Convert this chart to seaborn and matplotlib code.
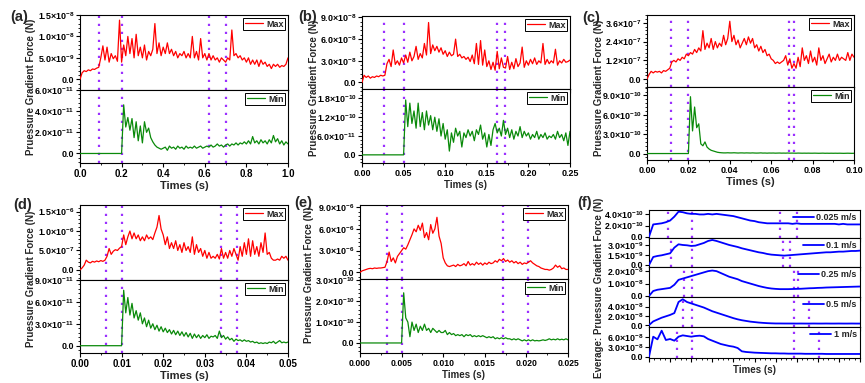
import numpy as np
import matplotlib
matplotlib.use("Agg")
import matplotlib.pyplot as plt
from matplotlib.ticker import FuncFormatter, FormatStrFormatter, AutoMinorLocator, NullFormatter
import seaborn as sns

# (a) 0.025 m/s, 0 - 1.0 s
a_max = [0.0, 1.5, 2.0, 1.8, 2.2, 2.0, 2.4, 2.3, 2.6, 2.8,
         5.0, 7.8, 4.5, 7.5, 4.0, 6.0, 4.8, 5.5, 4.2, 13.8,
         4.0, 8.0, 5.5, 10.0, 6.0, 9.5, 5.0, 10.5, 5.5, 7.5,
         5.0, 8.0, 4.5, 6.5, 5.5, 7.0, 13.0, 6.0, 8.5, 5.5,
         7.5, 6.0, 8.5, 6.0, 7.0, 5.5, 6.5, 5.0, 6.0, 5.5,
         6.5, 5.0, 6.0, 5.0, 10.0, 5.0, 6.5, 4.5, 9.5, 5.0,
         6.0, 4.5, 6.0, 4.5, 5.5, 4.5, 5.0, 4.0, 5.0, 4.5,
         4.0, 5.0, 4.5, 11.5, 5.5, 6.0, 5.0, 5.5, 4.5, 5.0,
         4.0, 5.0, 3.5, 4.5, 3.5, 4.5, 3.0, 4.5, 3.5, 4.0,
         3.0, 3.5, 2.5, 3.5, 3.0, 3.5, 2.8, 3.2, 3.0, 3.5,
         5.0]  # x1e-9 N
a_min = [0.0, 0.0, 0.0, 0.0, 0.0, 0.0, 0.0, 0.0, 0.0, 0.0,
         0.0, 0.0, 0.0, 0.0, 0.0, 0.0, 0.0, 0.0, 0.0, 0.0,
         0.0, 4.6, 2.5, 3.4, 2.2, 3.3, 1.5, 3.0, 1.2, 2.6,
         1.0, 3.0, 2.0, 2.4, 1.5, 1.1, 0.8, 0.6, 0.5, 0.4,
         0.5, 0.6, 0.3, 0.7, 0.5, 0.6, 0.4, 0.7, 0.5, 0.6,
         0.4, 0.7, 0.5, 0.6, 0.5, 0.7, 0.5, 0.6, 0.7, 0.5,
         0.6, 0.7, 0.6, 0.8, 0.6, 0.7, 0.9, 0.7, 0.8, 0.6,
         0.8, 0.9, 0.7, 0.9, 0.8, 1.0, 0.8, 1.0, 0.9, 1.1,
         0.9, 1.2, 0.9, 1.6, 1.0, 1.2, 0.9, 1.3, 1.0, 1.2,
         0.9, 1.3, 1.0, 1.7, 1.1, 1.4, 0.9, 1.2, 0.8, 1.1,
         0.9]  # x1e-11 N
a_lines = [0.09, 0.20, 0.62, 0.70]

# (b) 0.1 m/s, 0 - 0.25 s
b_max = [0.0, 1.0, 0.7, 0.9, 0.6, 0.8, 0.7, 0.9, 0.8, 1.0,
         0.9, 1.0, 2.6, 3.2, 2.2, 4.5, 2.5, 3.0, 2.4, 3.4,
         2.7, 3.8, 2.8, 4.2, 3.0, 3.6, 5.0, 3.2, 4.0, 3.4,
         5.4, 3.8, 8.3, 4.0, 5.2, 4.4, 5.0, 4.2, 4.8, 3.9,
         4.4, 3.6, 4.2, 3.7, 3.9, 6.0, 3.6, 3.9, 3.4, 3.6,
         3.2, 3.5, 2.9, 3.8, 2.6, 5.4, 2.5, 5.8, 2.4, 4.5,
         2.2, 3.0, 1.8, 2.8, 1.7, 4.3, 1.9, 3.4, 2.1, 2.0,
         3.6, 1.8, 2.8, 1.9, 3.3, 2.2, 2.7, 4.9, 2.1, 3.0,
         2.4, 3.2, 2.6, 3.4, 2.5, 3.0, 2.7, 5.4, 2.5, 3.2,
         2.6, 3.0, 2.7, 4.6, 2.4, 3.0, 2.7, 3.2, 2.8, 2.9,
         3.1]  # x1e-8 N
b_min = [0.0, 0.0, 0.0, 0.0, 0.0, 0.0, 0.0, 0.0, 0.0, 0.0,
         0.0, 0.0, 0.0, 0.0, 0.0, 0.0, 0.0, 0.0, 0.0, 0.0,
         0.0, 17.5, 9.0, 16.5, 10.0, 14.0, 8.5, 16.5, 9.0, 13.5,
         8.0, 14.0, 9.5, 12.5, 8.0, 12.0, 7.5, 11.5, 6.0, 10.0,
         5.0, 8.0, 1.2, 7.0, 4.0, 8.5, 6.0, 7.5, 2.5, 7.0,
         5.5, 8.0, 6.0, 7.5, 4.5, 8.0, 6.5, 9.5, 5.0, 7.0,
         2.5, 6.5, 3.0, 8.0, 10.0, 7.0, 8.5, 6.0, 11.0, 6.5,
         8.5, 5.5, 8.0, 5.0, 7.5, 6.0, 9.0, 5.5, 7.5, 6.0,
         7.0, 5.0, 6.5, 5.5, 7.5, 5.0, 6.5, 5.5, 7.0, 5.0,
         6.0, 5.5, 6.5, 5.0, 7.5, 5.5, 6.5, 4.5, 7.0, 3.0,
         7.5]  # x1e-11 N
b_lines = [0.027, 0.050, 0.162, 0.172]

# (c) 0.25 m/s, 0 - 0.10 s
c_max = [0.0, 0.3, 0.5, 0.4, 0.5, 0.45, 0.5, 0.4, 0.55, 0.5,
         0.6, 0.7, 1.1, 1.2, 1.1, 1.3, 1.2, 1.4, 1.3, 1.6,
         1.5, 1.7, 1.6, 1.9, 1.7, 2.0, 1.8, 3.1, 1.9, 2.3,
         2.0, 2.6, 1.9, 2.4, 2.0, 2.3, 2.1, 2.8, 2.2, 2.6,
         3.7, 2.4, 2.8, 2.2, 2.5, 2.0, 2.3, 2.6, 2.2, 2.7,
         2.3, 2.6, 2.0, 2.2, 1.8, 2.1, 1.7, 1.9, 1.5, 1.6,
         1.3, 1.2, 1.0, 1.1, 1.0, 1.1, 1.2, 1.5, 0.9, 1.3,
         0.7, 1.0, 0.7, 1.4, 0.8, 2.0, 1.2, 1.5, 1.0, 1.8,
         1.1, 1.4, 0.9, 2.0, 1.2, 1.5, 1.0, 1.3, 1.6, 1.1,
         1.4, 1.2, 1.6, 1.2, 1.4, 1.3, 1.2, 1.7, 1.2, 1.6,
         1.4]  # x1e-7 N
c_min = [0.0, 0.0, 0.0, 0.0, 0.0, 0.0, 0.0, 0.0, 0.0, 0.0,
         0.0, 0.0, 0.0, 0.0, 0.0, 0.0, 0.0, 0.0, 0.0, 0.0,
         0.0, 8.8, 3.5, 7.2, 4.0, 4.6, 1.5, 1.2, 1.8, 1.0,
         0.7, 0.5, 0.4, 0.3, 0.2, 0.15, 0.12, 0.1, 0.1, 0.12,
         0.1, 0.1, 0.12, 0.1, 0.08, 0.1, 0.1, 0.08, 0.1, 0.09,
         0.08, 0.1, 0.08, 0.07, 0.08, 0.1, 0.07, 0.08, 0.06, 0.08,
         0.07, 0.08, 0.06, 0.07, 0.08, 0.06, 0.07, 0.06, 0.08, 0.06,
         0.07, 0.06, 0.05, 0.07, 0.06, 0.05, 0.06, 0.05, 0.06, 0.05,
         0.05, 0.06, 0.05, 0.04, 0.05, 0.06, 0.04, 0.05, 0.04, 0.05,
         0.04, 0.05, 0.04, 0.05, 0.04, 0.03, 0.04, 0.05, 0.04, 0.03,
         0.04]  # x1e-10 N
c_lines = [0.0117, 0.020, 0.0684, 0.0708]

# (d) 0.5 m/s, 0 - 0.05 s
d_max = [0.0, 0.5, 1.2, 2.5, 2.0, 1.8, 2.2, 2.0, 2.3, 2.1,
         2.4, 2.2, 2.5, 3.5, 5.5, 4.0, 4.8, 5.2, 5.0, 5.6,
         6.0, 9.0, 6.5, 8.5, 10.0, 8.0, 9.5, 8.0, 9.0, 7.5,
         8.5, 7.5, 9.0, 8.0, 8.5, 7.8, 9.5, 11.0, 14.0, 10.5,
         9.0, 6.5, 8.5, 5.5, 7.0, 5.5, 7.5, 5.0, 6.5, 4.5,
         7.0, 5.0, 6.0, 4.5, 8.5, 4.0, 6.5, 4.5, 5.5, 3.5,
         5.0, 3.0, 4.5, 3.0, 3.5, 3.0, 4.0, 2.8, 5.5, 3.0,
         4.5, 3.0, 5.0, 3.5, 5.5, 4.0, 2.5, 6.0, 3.5, 7.0,
         4.0, 8.0, 3.5, 7.5, 4.0, 6.0, 3.5, 7.0, 4.5, 9.5,
         4.0, 4.5, 3.0, 2.5, 2.5, 2.8, 2.5, 3.5, 3.0, 3.5,
         2.5]  # x1e-7 N
d_min = [0.0, 0.0, 0.0, 0.0, 0.0, 0.0, 0.0, 0.0, 0.0, 0.0,
         0.0, 0.0, 0.0, 0.0, 0.0, 0.0, 0.0, 0.0, 0.0, 0.0,
         0.0, 7.6, 4.5, 6.6, 4.2, 5.8, 3.8, 4.8, 3.5, 4.5,
         3.0, 3.8, 2.6, 3.5, 2.4, 3.0, 2.2, 2.8, 2.0, 2.6,
         1.9, 2.4, 1.8, 2.2, 1.6, 2.1, 1.5, 2.0, 1.4, 1.9,
         1.3, 1.8, 1.2, 1.7, 1.0, 1.6, 1.1, 1.5, 1.0, 1.4,
         1.1, 1.5, 1.0, 1.3, 1.2, 1.4, 1.0, 2.0, 1.1, 1.4,
         0.9, 1.2, 0.8, 1.0, 0.6, 0.9, 0.7, 0.8, 0.6, 0.8,
         0.6, 0.7, 0.5, 0.6, 0.4, 0.5, 0.3, 0.4, 0.3, 0.4,
         0.3, 0.5, 0.4, 0.6, 0.3, 0.5, 0.7, 0.4, 0.5, 0.4,
         0.5]  # x1e-11 N
d_lines = [0.0062, 0.010, 0.0340, 0.0377]

# (e) 1 m/s, 0 - 0.025 s
e_max = [0.0, 0.2, 0.3, 0.4, 0.5, 0.55, 0.5, 0.6, 0.55, 0.6,
         0.6, 0.65, 0.7, 1.5, 2.8, 1.5, 2.0, 1.3, 2.2, 2.6,
         3.0, 3.4, 3.2, 3.8, 4.5, 5.2, 6.0, 5.6, 6.5, 5.8,
         6.8, 4.8, 5.5, 4.5, 6.6, 5.4, 6.0, 7.6, 5.0, 4.0,
         2.0, 1.3, 0.9, 0.8, 0.9, 1.0, 0.8, 1.1, 0.9, 1.0,
         1.2, 0.9, 1.5, 1.0, 1.2, 1.0, 1.4, 1.1, 1.3, 1.0,
         1.3, 1.1, 1.4, 1.2, 1.3, 1.6, 1.4, 1.8, 1.6, 1.9,
         1.5, 1.7, 1.4, 1.6, 1.3, 1.5, 1.2, 1.4, 1.1, 1.3,
         1.2, 1.4, 1.6, 1.3, 1.1, 0.9, 0.8, 0.6, 0.5, 0.4,
         0.4, 0.3, 0.4, 0.6, 1.0, 0.7, 0.9, 0.5, 0.6, 0.4,
         0.4]  # x1e-6 N
e_min = [0.0, 0.0, 0.0, 0.0, 0.0, 0.0, 0.0, 0.0, 0.0, 0.0,
         0.0, 0.0, 0.0, 0.0, 0.0, 0.0, 0.0, 0.0, 0.0, 0.0,
         0.0, 2.4, 1.2, 1.0, 0.3, 1.0, 0.6, 0.9, 0.5, 0.8,
         0.6, 0.9, 0.6, 0.7, 0.5, 0.7, 0.6, 0.5, 0.6, 0.5,
         0.5, 0.6, 0.4, 0.5, 0.4, 0.45, 0.35, 0.4, 0.35, 0.4,
         0.3, 0.4, 0.35, 0.4, 0.3, 0.35, 0.3, 0.35, 0.3, 0.35,
         0.3, 0.25, 0.3, 0.25, 0.3, 0.2, 0.25, 0.2, 0.25, 0.2,
         0.25, 0.2, 0.2, 0.15, 0.2, 0.15, 0.2, 0.15, 0.1, 0.15,
         0.1, 0.15, 0.1, 0.15, 0.1, 0.12, 0.1, 0.12, 0.15, 0.12,
         0.15, 0.2, 0.15, 0.18, 0.15, 0.2, 0.15, 0.18, 0.15, 0.2,
         0.15]  # x1e-10 N
e_lines = [0.00328, 0.0050, 0.01716, 0.02024]

# (f) average force vs normalised time (0 - 1)
f_labels = ["0.025 m/s", "0.1 m/s", "0.25 m/s", "0.5 m/s", "1 m/s"]
f_v025 = [0.0, 2.2, 2.3, 2.4, 2.6, 2.9, 3.6, 4.5, 4.4, 4.2,
          4.1, 4.1, 4.0, 4.0, 4.1, 4.0, 4.1, 4.0, 3.9, 3.8,
          3.7, 3.5, 3.3, 3.1, 2.9, 2.8, 2.6, 2.5, 2.4, 2.4,
          2.4, 2.4, 2.4, 2.4, 2.3, 2.4, 2.3, 2.3, 2.3, 2.3,
          2.3, 2.3, 2.3, 2.3, 2.3, 2.2, 2.3, 2.2, 2.2, 2.2,
          2.2]  # x1e-10 N
f_v1 = [0.0, 1.2, 1.35, 1.45, 1.6, 1.75, 2.6, 3.1, 3.0, 2.95,
        2.85, 2.9, 3.1, 3.3, 3.6, 3.75, 3.6, 3.4, 3.2, 3.0,
        2.85, 2.7, 2.5, 2.35, 2.2, 2.05, 1.9, 1.8, 1.65, 1.55,
        1.5, 1.45, 1.4, 1.45, 1.5, 1.55, 1.6, 1.65, 1.7, 1.75,
        1.8, 1.85, 1.9, 1.9, 1.95, 2.0, 2.0, 2.05, 2.1, 2.1,
        2.15]  # x1e-9 N
f_v25 = [0.0, 0.4, 0.5, 0.55, 0.6, 0.65, 0.9, 1.3, 1.4, 1.5,
         1.6, 1.7, 1.8, 1.9, 2.0, 2.05, 2.0, 1.85, 1.7, 1.55,
         1.45, 1.35, 1.2, 1.1, 1.0, 0.9, 0.8, 0.72, 0.65, 0.6,
         0.57, 0.55, 0.55, 0.55, 0.56, 0.57, 0.58, 0.6, 0.62, 0.63,
         0.65, 0.66, 0.68, 0.69, 0.7, 0.71, 0.72, 0.73, 0.74, 0.75,
         0.76]  # x1e-8 N
f_v5 = [0.0, 0.8, 1.2, 1.6, 1.9, 2.2, 2.6, 5.0, 5.6, 5.0,
        4.7, 4.4, 4.1, 3.8, 3.4, 3.0, 2.7, 2.4, 2.1, 1.8,
        1.5, 1.25, 1.05, 0.9, 0.75, 0.65, 0.55, 0.48, 0.42, 0.38,
        0.35, 0.35, 0.34, 0.34, 0.34, 0.33, 0.34, 0.33, 0.33, 0.34,
        0.33, 0.33, 0.34, 0.33, 0.33, 0.34, 0.33, 0.33, 0.34, 0.33,
        0.33]  # x1e-8 N
f_v10 = [0.0, 6.0, 5.2, 7.8, 5.0, 5.3, 4.8, 6.0, 6.4, 6.2,
         6.0, 6.2, 6.3, 6.1, 5.3, 4.8, 4.3, 3.8, 3.5, 3.2,
         3.0, 2.6, 1.6, 1.4, 1.3, 1.2, 1.15, 1.1, 1.05, 1.0,
         1.0, 0.95, 0.95, 0.9, 0.9, 0.9, 0.9, 0.85, 0.85, 0.85,
         0.85, 0.85, 0.8, 0.8, 0.8, 0.8, 0.8, 0.8, 0.8, 0.8,
         0.8]  # x1e-8 N
f_lines = [[0.092, 0.202, 0.621, 0.703],
           [0.104, 0.202, 0.635, 0.670],
           [0.166, 0.202, 0.686, 0.708],
           [0.163, 0.202, 0.686, 0.758],
           [0.131, 0.202, 0.686, 0.807]]

RED = "#ff0000"
GREEN = "#0a8a0a"
BLUE = "#0000ff"
PURPLE = "#9b30ff"
W, H = 865, 383
YT = 6.4  # y tick label size

sns.set_theme(style="ticks")
plt.rcParams["font.family"] = ["Liberation Sans", "DejaVu Sans"]
plt.rcParams.update({
    "font.weight": "bold",
    "axes.labelweight": "bold",
    "mathtext.fontset": "custom",
    "mathtext.rm": "Liberation Sans:bold",
    "mathtext.it": "Liberation Sans:bold:italic",
    "mathtext.bf": "Liberation Sans:bold",
    "mathtext.default": "rm",
    "axes.edgecolor": "black",
    "axes.linewidth": 0.8,
    "xtick.direction": "out",
    "ytick.direction": "out",
    "xtick.major.size": 3,
    "ytick.major.size": 3,
    "xtick.minor.size": 1.6,
    "ytick.minor.size": 1.4,
    "xtick.major.width": 0.8,
    "ytick.major.width": 0.8,
    "xtick.minor.width": 0.6,
    "ytick.minor.width": 0.6,
    "xtick.major.pad": 1.5,
    "ytick.major.pad": 1.0,
    "xtick.color": "black",
    "ytick.color": "black",
})


def sci(v, pos):
    if abs(v) < 1e-30:
        return "0.0"
    e = int(np.floor(np.log10(abs(v)) + 1e-9))
    return r"$%.1f{\times}10^{%d}$" % (v / 10.0 ** e, e)


def rect(l, r, top, bot):
    return [l / W, 1 - bot / H, (r - l) / W, (bot - top) / H]


def vlines(ax, xs):
    for x in xs:
        ax.axvline(x, color=PURPLE, lw=1.6, ls=(0, (1, 2.6)), zorder=1)


def legend(ax):
    lg = ax.legend(loc="upper right", fontsize=6.5, frameon=True, fancybox=False,
                   edgecolor="black", framealpha=1, borderpad=0.2, handlelength=2.0,
                   handletextpad=0.3, borderaxespad=0.3)
    lg.get_frame().set_linewidth(0.7)


panels = [
    dict(tag="(a)", box=(80, 288, 15, 90, 163), tend=1.0, mx=a_max, mn=a_min, ux=1e-9, un=1e-11,
         ylx=(-2.5e-9, 1.5e-8), yln=(-0.9e-11, 6.0e-11), tkx=[0, 5e-9, 1e-8, 1.5e-8],
         tkn=[0, 2e-11, 4e-11, 6e-11], vl=a_lines, xt=np.arange(0, 1.01, 0.2), xf="%.1f",
         xs=7, lab=(10, 17), yl=(31, 87), xls=8),
    dict(tag="(b)", box=(362, 570, 16, 89, 163), tend=0.25, mx=b_max, mn=b_min, ux=1e-8, un=1e-11,
         ylx=(-0.9e-8, 9.2e-8), yln=(-2.6e-11, 2.1e-10), tkx=[0, 3e-8, 6e-8, 9e-8],
         tkn=[0, 6e-11, 1.2e-10, 1.8e-10], vl=b_lines, xt=np.arange(0, 0.251, 0.05), xf="%.2f",
         xs=6.5, lab=(298, 17), yl=(314, 88), xls=7),
    dict(tag="(c)", box=(647, 854, 15, 87, 160), tend=0.10, mx=c_max, mn=c_min, ux=1e-7, un=1e-10,
         ylx=(-0.5e-7, 4.1e-7), yln=(-1.0e-10, 10.3e-10), tkx=[0, 1.2e-7, 2.4e-7, 3.6e-7],
         tkn=[0, 3e-10, 6e-10, 9e-10], vl=c_lines, xt=np.arange(0, 0.101, 0.02), xf="%.2f",
         xs=6.5, lab=(582, 18), yl=(599, 88), xls=8),
    dict(tag="(d)", box=(80, 288, 205, 280, 353), tend=0.05, mx=d_max, mn=d_min, ux=1e-7, un=1e-11,
         ylx=(-2.6e-7, 1.67e-6), yln=(-1.0e-11, 9.0e-11), tkx=[0, 5e-7, 1e-6, 1.5e-6],
         tkn=[0, 3e-11, 6e-11, 9e-11], vl=d_lines, xt=np.arange(0, 0.0501, 0.01), xf="%.2f",
         xs=7, lab=(13, 205), yl=(31, 279), xls=8),
    dict(tag="(e)", box=(360, 568, 205, 279, 353), tend=0.025, mx=e_max, mn=e_min, ux=1e-6, un=1e-10,
         ylx=(-0.92e-6, 9.3e-6), yln=(-0.48e-10, 3.06e-10), tkx=[0, 3e-6, 6e-6, 9e-6],
         tkn=[0, 1e-10, 2e-10, 3e-10], vl=e_lines, xt=np.arange(0, 0.02501, 0.005), xf="%.3f",
         xs=6.2, lab=(294, 203), yl=(309, 275), xls=7),
]

fig = plt.figure(figsize=(W / 100, H / 100), dpi=100)

for p in panels:
    l, r, top, mid, bot = p["box"]
    ax1 = fig.add_axes(rect(l, r, top, mid))
    ax2 = fig.add_axes(rect(l, r, mid, bot))
    t = np.linspace(0, p["tend"], len(p["mx"]))
    sns.lineplot(x=t, y=np.array(p["mx"]) * p["ux"], ax=ax1, color=RED, lw=0.9, label="Max", zorder=3)
    t = np.linspace(0, p["tend"], len(p["mn"]))
    sns.lineplot(x=t, y=np.array(p["mn"]) * p["un"], ax=ax2, color=GREEN, lw=0.9, label="Min", zorder=3)
    for ax, yl, tk in ((ax1, p["ylx"], p["tkx"]), (ax2, p["yln"], p["tkn"])):
        vlines(ax, p["vl"])
        ax.set_xlim(0, p["tend"])
        ax.set_ylim(*yl)
        ax.set_yticks(tk)
        ax.yaxis.set_major_formatter(FuncFormatter(sci))
        ax.yaxis.set_minor_locator(AutoMinorLocator(5))
        ax.set_xticks(p["xt"])
        ax.xaxis.set_minor_locator(AutoMinorLocator(2))
        ax.tick_params(axis="y", labelsize=YT)
        ax.tick_params(axis="x", labelsize=p["xs"])
        ax.set_ylabel("")
        legend(ax)
    ax1.xaxis.set_major_formatter(NullFormatter())
    ax2.xaxis.set_major_formatter(FormatStrFormatter(p["xf"]))
    ax2.set_xlabel("Times (s)", fontsize=p["xls"], fontweight="bold", labelpad=1)
    fig.text(p["yl"][0] / W, 1 - p["yl"][1] / H, "Pruessure Gradient Force (N)", rotation=90,
             ha="center", va="center", fontsize=7, fontweight="bold")
    fig.text(p["lab"][0] / W, 1 - p["lab"][1] / H, p["tag"], ha="left", va="center",
             fontsize=10.5, fontweight="bold")

# (f)
f_curves = [f_v025, f_v1, f_v25, f_v5, f_v10]
f_units = [1e-10, 1e-9, 1e-8, 1e-8, 1e-8]
f_ylim = [(-0.3e-10, 4.8e-10), (-0.35e-9, 4.0e-9), (-0.06e-8, 2.31e-8), (-0.35e-8, 6.15e-8), (-0.5e-8, 9.0e-8)]
f_ticks = [[0, 2e-10, 4e-10], [0, 1.5e-9, 3e-9], [0, 1e-8, 2e-8], [0, 2e-8, 4e-8], [0, 3e-8, 6e-8]]
f_edges = [210, 238.3, 267.3, 296.7, 326.7, 358.3]

for i in range(5):
    ax = fig.add_axes(rect(649, 860, f_edges[i], f_edges[i + 1]))
    x = np.linspace(0, 1, len(f_curves[i]))
    sns.lineplot(x=x, y=np.array(f_curves[i]) * f_units[i], ax=ax, color=BLUE, lw=1.3,
                 label=f_labels[i], zorder=3)
    vlines(ax, f_lines[i])
    ax.set_xlim(0, 1)
    ax.set_ylim(*f_ylim[i])
    ax.set_yticks(f_ticks[i])
    ax.yaxis.set_major_formatter(FuncFormatter(sci))
    ax.set_xticks(np.arange(0, 1.01, 0.1))
    ax.xaxis.set_minor_locator(AutoMinorLocator(4))
    ax.xaxis.set_major_formatter(NullFormatter())
    ax.tick_params(axis="y", labelsize=YT)
    ax.set_ylabel("")
    ax.legend(loc="upper right", fontsize=6.5, frameon=False, handlelength=2.3,
              handletextpad=0.3, borderaxespad=0.15, borderpad=0.2)
    if i == 4:
        ax.set_xlabel("Times (s)", fontsize=7, fontweight="bold", labelpad=0)

fig.text(599 / W, 1 - 288 / H, "Everage: Pruessure Gradient Force (N)", rotation=90,
         ha="center", va="center", fontsize=7, fontweight="bold")
fig.text(577 / W, 1 - 203 / H, "(f)", ha="left", va="center", fontsize=10.5, fontweight="bold")

fig.savefig("out.png", dpi=100)
